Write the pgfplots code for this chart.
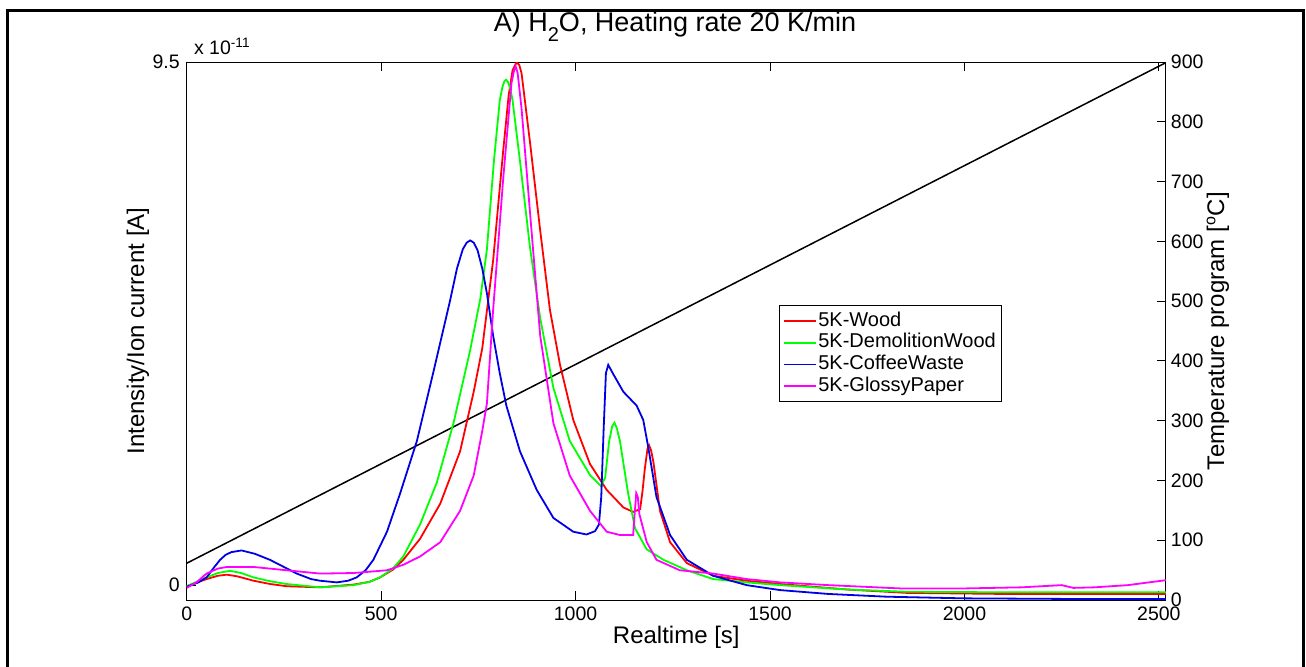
\documentclass[border=0pt]{standalone}
\usepackage{fontspec}
\setmainfont{Liberation Sans}
\usepackage{pgfplots}
\pgfplotsset{compat=1.18}
\usepackage{pgfplotstable}

\definecolor{cwood}{rgb}{1,0,0}
\definecolor{cdemo}{rgb}{0,1,0}
\definecolor{ccoffee}{rgb}{0,0,0.9}
\definecolor{cglossy}{rgb}{1,0,1}

\pgfplotstableread{
t v
0 -0.02
51 0.11
80 0.17
103 0.19
130 0.16
172 0.08
215 0.02
257 -0.02
343 -0.04
429 0.01
470 0.06
497 0.14
530 0.28
557 0.46
600 0.84
652 1.48
703 2.43
738 3.51
760 4.3
788 5.9
814 7.9
828 8.9
838 9.35
848 9.49
855 9.45
861 9.3
883 8.03
909 6.44
934 5.0
960 4.0
994 3.0
1037 2.2
1080 1.73
1123 1.41
1148 1.33
1166 1.38
1172 1.7
1178 2.11
1185 2.48
1189 2.54
1194 2.45
1200 2.24
1217 1.35
1243 0.78
1286 0.40
1354 0.17
1440 0.08
1526 0.02
1700 -0.08
1850 -0.14
2100 -0.16
2518 -0.16
}\wood

\pgfplotstableread{
t v
0 -0.02
51 0.14
80 0.22
111 0.26
140 0.22
172 0.14
215 0.07
257 0.02
343 -0.04
429 0.0
470 0.06
497 0.14
530 0.3
557 0.52
600 1.1
643 1.86
686 2.94
729 4.27
755 5.2
772 6.1
790 7.7
805 8.8
812 9.05
817 9.15
821 9.18
826 9.14
832 9.02
838 8.8
857 7.7
883 6.12
909 4.85
943 3.58
985 2.62
1037 2.0
1065 1.8
1076 1.95
1086 2.6
1094 2.88
1100 2.95
1106 2.85
1114 2.62
1135 1.67
1153 1.03
1183 0.65
1226 0.46
1286 0.27
1354 0.11
1440 0.05
1526 0.0
1700 -0.08
1850 -0.12
2100 -0.13
2518 -0.13
}\demolition

\pgfplotstableread{
t v
0 -0.03
30 0.05
51 0.14
70 0.32
86 0.46
100 0.55
115 0.6
141 0.63
175 0.57
214 0.46
250 0.33
283 0.21
320 0.11
343 0.08
386 0.05
415 0.08
437 0.14
460 0.27
480 0.46
515 0.97
549 1.67
592 2.62
635 3.89
677 5.16
695 5.75
710 6.1
720 6.22
729 6.26
738 6.22
748 6.08
760 5.75
772 5.3
788 4.53
805 3.85
822 3.26
857 2.43
900 1.73
943 1.22
994 0.97
1028 0.92
1050 0.98
1060 1.1
1066 1.6
1072 2.8
1078 3.85
1084 4.0
1097 3.83
1123 3.51
1157 3.26
1174 3.0
1187 2.5
1208 1.6
1243 0.91
1286 0.46
1354 0.17
1440 0.0
1526 -0.09
1650 -0.16
1800 -0.21
2000 -0.24
2250 -0.25
2518 -0.25
}\coffee

\pgfplotstableread{
t v
0 -0.05
25 0.05
51 0.21
80 0.3
103 0.33
172 0.33
257 0.27
343 0.21
429 0.22
515 0.27
557 0.37
600 0.52
652 0.78
703 1.35
738 1.99
760 2.8
772 3.3
788 5.0
814 7.39
835 9.11
842 9.35
846 9.42
851 9.3
861 8.66
883 6.75
909 4.53
943 2.94
985 1.99
1037 1.35
1080 0.97
1114 0.91
1148 0.91
1152 1.3
1156 1.67
1160 1.6
1164 1.29
1183 0.78
1208 0.46
1268 0.27
1354 0.21
1440 0.11
1526 0.05
1650 0.0
1836 -0.06
2000 -0.06
2146 -0.04
2250 0.0
2280 -0.05
2334 -0.04
2420 0.0
2518 0.09
}\glossy

\begin{document}
\begin{tikzpicture}
\useasboundingbox (0,0) rectangle (653pt,333pt);
\pgfplotsset{
  commonaxis/.style={
    scale only axis, width=489.6pt, height=269pt,
    at={(93.35pt,33pt)}, anchor=south west,
    xmin=0, xmax=2518,
    tick align=inside, major tick length=4.5pt,
    tick style={black, line width=0.5pt},
    axis line style={line width=0.5pt},
    /pgf/number format/assume math mode=true,
    /pgf/number format/1000 sep={},
    tick label style={font=\fontsize{9.75}{11}\selectfont},
    label style={font=\fontsize{12}{14}\selectfont},
  }
}
\begin{axis}[commonaxis,
  ymin=0, ymax=900,
  axis x line=none, axis y line*=right,
  ytick={0,100,...,900},
  ylabel={Temperature program [\textsuperscript{o}C]},
  ylabel style={at={(axis description cs:1.053,0.5)}, anchor=center},
  yticklabel style={xshift=-1pt},
]
\addplot[black, line width=0.75pt] coordinates {(0,61.5) (2518,899)};
\end{axis}
\begin{axis}[commonaxis,
  ymin=-0.27, ymax=9.5,
  xtick={0,500,...,2500}, xtick pos=both, xticklabel pos=bottom,
  ytick={0,9.5}, yticklabels={0,9.5}, ytick pos=left,
  xlabel={Realtime [s]},
  ylabel={Intensity/Ion current [A]},
  xlabel style={at={(axis description cs:0.5,-0.0688)}, anchor=center},
  ylabel style={at={(axis description cs:-0.0497,0.5)}, anchor=center},
  legend style={at={(axis description cs:0.6048,0.5483)}, anchor=north west,
    draw=black, fill=white,
    font=\fontsize{10}{12}\selectfont, inner xsep=2pt, inner ysep=2.5pt,
    nodes={inner sep=0.6pt, text height=7.3pt, text depth=2.3pt}},
  legend cell align=left,
  legend image code/.code={\draw[#1] (0pt,0pt) -- (16pt,0pt);},
]
\addplot[color=cwood, line width=0.9pt] table[x=t,y=v] {\wood};
\addlegendentry{5K-Wood}
\addplot[color=cdemo, line width=0.9pt] table[x=t,y=v] {\demolition};
\addlegendentry{5K-DemolitionWood}
\addplot[color=ccoffee, line width=0.9pt] table[x=t,y=v] {\coffee};
\addlegendentry{5K-CoffeeWaste}
\addplot[color=cglossy, line width=0.9pt] table[x=t,y=v] {\glossy};
\addlegendentry{5K-GlossyPaper}
\end{axis}
\node[anchor=base west, font=\fontsize{9.75}{11}\selectfont] at (93.5pt,305.5pt) {x 10\textsuperscript{-11}};
\node[anchor=base, font=\fontsize{13.5}{16}\selectfont] at (337.5pt,317pt) {A) H\raisebox{-5pt}{\fontsize{10}{12}\selectfont 2}O, Heating rate 20 K/min};
\draw[line width=1.5pt] (3.75pt,-2pt) -- (3.75pt,327.5pt) -- (651.5pt,327.5pt) -- (651.5pt,-2pt);
\end{tikzpicture}
\end{document}
